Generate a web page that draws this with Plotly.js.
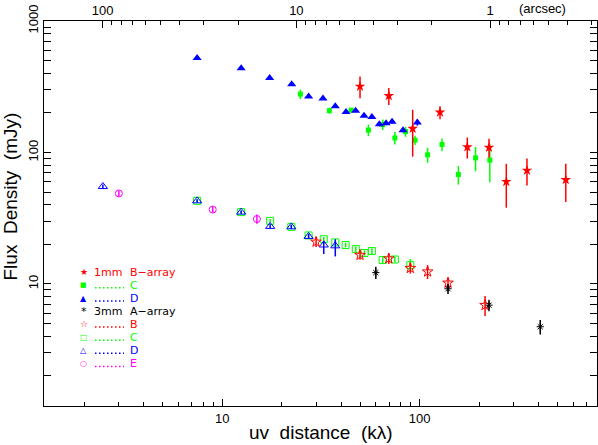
<!DOCTYPE html>
<html>
<head>
<meta charset="utf-8">
<script src="https://cdn.plot.ly/plotly-3.0.1.min.js"></script>
<style>html,body{margin:0;padding:0;background:#fff;}#chart{width:598px;height:445px;}</style>
</head>
<body>
<div id="chart"></div>
<script>
// ---- data (uv distance in kλ, flux density in mJy) ----
var mm1B_uv   = [49.9, 69.8, 92.2, 126.8, 174.3, 224.5, 274.6, 349.5, 549.5];
var mm1B_flux = [318, 270, 152, 202, 110, 109, 60, 73, 62];
var mm1B_err  = [60, 40, 59, 23, 20, 18, 22, 17, 20];

var mm1C_uv   = [24.9, 34.9, 45.0, 55.0, 65.0, 74.9, 84.9, 94.8, 109.7, 129.8, 157.0, 191.9, 226.6];
var mm1C_flux = [278, 208, 210, 148, 163, 129, 144, 124, 96, 115, 68, 91, 87.5];
var mm1C_err  = [23, 11, 5, 15, 15, 14, 12.5, 10, 12.5, 12.6, 11, 19, 28];

var mm1D_uv   = [7.47, 12.48, 17.4, 22.5, 27.4, 32.4, 37.4, 42.4, 47.4, 52.3, 57.3, 62.5, 67.6, 72.5, 82.4, 97.3];
var mm1D_flux = [522, 438, 368, 331, 267, 257, 225, 203, 208, 190, 186, 164, 167, 171, 147.5, 169];
var mm1D_err  = [8, 7, 6, 6, 6, 5, 5, 5, 5, 5, 5, 6, 5, 5, 5, 9];

var mm3A_uv   = [60.0, 139.2, 224.5, 408];
var mm3A_flux = [12.2, 9.2, 6.9, 4.73];
var mm3A_err  = [1.3, 0.8, 0.7, 0.6];

var mm3B_uv   = [29.9, 49.9, 69.8, 89.7, 109.7, 139.2, 214.4];
var mm3B_flux = [20.9, 16.6, 15.6, 13.2, 12.4, 10.2, 6.9];
var mm3B_err  = [1.8, 1.3, 1.4, 1.2, 1.5, 1.0, 1.2];

var mm3C_uv   = [7.47, 12.48, 17.5, 22.4, 27.4, 32.7, 37.4, 42.2, 47.5, 52.6, 57.3, 65.0, 74.9, 89.7];
var mm3C_flux = [42.9, 35.2, 30.2, 27.2, 23.4, 21.9, 20.7, 19.8, 18.4, 17.2, 17.8, 15.2, 15.35, 13.9];
var mm3C_err  = [1.2, 1.0, 1.0, 1.0, 0.9, 0.9, 0.9, 0.8, 0.9, 0.8, 0.9, 0.8, 0.8, 1.6];

var mm3D_uv       = [2.49, 7.47, 12.48, 17.5, 22.4, 27.4, 32.7, 37.4];
var mm3D_flux     = [55.1, 42.9, 35.2, 27.4, 27.2, 23.0, 19.8, 19.5];
var mm3D_errplus  = [2.0, 1.2, 1.0, 1.0, 1.0, 1.0, 1.5, 2.4];
var mm3D_errminus = [2.0, 1.2, 1.0, 1.0, 1.0, 1.0, 2.9, 3.3];

var mm3E_uv   = [3.00, 8.96, 15.0];
var mm3E_flux = [48.8, 36.8, 31.2];
var mm3E_err  = [2.5, 2.0, 2.5];

// ---- axis ticks ----
var xMajor = [10, 100];
var xMajorText = ['10', '100'];
var yMajor = [10, 100, 1000];
var yMajorText = ['10', '100', '1000'];
var topMajor = [1, 10, 100];
var topMajorText = ['1', '10', '100'];
var minorDigits = [2, 3, 4, 5, 6, 7, 8, 9];

// ---- legend rows ----
var legSymbols = ['\u2605', '\u25A0', '\u25B2', '*', '\u2606', '\u25A1', '\u25B3', '\u25CB'];
var legCol1    = ['1mm', null, null, '3mm', null, null, null, null];
var legCol2    = ['B\u2212array', 'C', 'D', 'A\u2212array', 'B', 'C', 'D', 'E'];
var legColors  = ['#ff0000', '#00ff00', '#0000ff', '#000000', '#ff0000', '#00ff00', '#0000ff', '#ff00ff'];
var legSymSize = [9, 7, 8, 11, 9, 8, 8, 8];

function minors(decades) {
  var out = [];
  decades.forEach(function (d) { minorDigits.forEach(function (m) { out.push(m * d); }); });
  return out;
}

var RED = '#ff0000', GREEN = '#00ff00', BLUE = '#0000ff', MAG = '#ff00ff', BLK = '#000000';

function tr(x, y, err, sym, size, color, lw, name, errminus) {
  var ey = {type: 'data', array: err, visible: true, color: color, thickness: 1.5, width: 0};
  if (errminus) { ey.symmetric = false; ey.arrayminus = errminus; }
  return {
    x: x, y: y, type: 'scatter', mode: 'markers', name: name,
    marker: {symbol: sym, size: size, color: color, line: {color: color, width: lw}},
    error_y: ey, showlegend: false, hoverinfo: 'skip'
  };
}

var traces = [
  tr(mm3E_uv, mm3E_flux, mm3E_err, 'circle-open', 7, MAG, 1, '3mm E'),
  tr(mm3C_uv, mm3C_flux, mm3C_err, 'square-open', 7, GREEN, 1, '3mm C'),
  tr(mm3D_uv, mm3D_flux, mm3D_errplus, 'triangle-up-open', 8, BLUE, 1, '3mm D', mm3D_errminus),
  tr(mm3B_uv, mm3B_flux, mm3B_err, 'star-open', 8, RED, 1, '3mm B'),
  tr(mm3A_uv, mm3A_flux, mm3A_err, 'asterisk-open', 6, BLK, 1, '3mm A'),
  tr(mm1C_uv, mm1C_flux, mm1C_err, 'square', 5, GREEN, 0, '1mm C'),
  tr(mm1D_uv, mm1D_flux, mm1D_err, 'triangle-up', 8, BLUE, 0, '1mm D'),
  tr(mm1B_uv, mm1B_flux, mm1B_err, 'star', 8, RED, 0, '1mm B')
];
// dummy trace to activate the top (arcsec) axis
traces.push({x: [], y: [], xaxis: 'x2', yaxis: 'y', type: 'scatter', mode: 'markers', showlegend: false});

var ML = 44, MR = 1, MT = 21, MB = 39, W = 598, H = 445;
var PW = W - ML - MR, PH = H - MT - MB;
function px2x(px) { return (px - ML) / PW; }
function py2y(py) { return (H - MB - py) / PH; }

var FONT = '"Liberation Sans", Arial, sans-serif';
var LEGFONT = '"DejaVu Sans", sans-serif';
var annotations = [];
var shapes = [];

var rowY0 = 271.7, rowStep = 13.1;
legCol2.forEach(function (t, i) {
  var py = rowY0 + i * rowStep;
  annotations.push({xref: 'paper', yref: 'paper', x: px2x(83.5), y: py2y(py), text: legSymbols[i],
    showarrow: false, xanchor: 'center', yanchor: 'middle', height: 12, borderpad: 0,
    font: {family: LEGFONT, size: legSymSize[i], color: legColors[i]}});
  if (legCol1[i]) {
    annotations.push({xref: 'paper', yref: 'paper', x: px2x(93), y: py2y(py), text: legCol1[i],
      showarrow: false, xanchor: 'left', yanchor: 'middle', height: 12, borderpad: 0,
      font: {family: LEGFONT, size: 11, color: legColors[i]}});
  } else {
    shapes.push({type: 'line', xref: 'paper', yref: 'paper', x0: px2x(95), x1: px2x(124),
      y0: py2y(py + 3), y1: py2y(py + 3), line: {color: legColors[i], width: 1.5, dash: '1.5px,2.5px'}});
  }
  annotations.push({xref: 'paper', yref: 'paper', x: px2x(128.5), y: py2y(py), text: t,
    showarrow: false, xanchor: 'left', yanchor: 'middle', height: 12, borderpad: 0,
    font: {family: LEGFONT, size: 11, color: legColors[i]}});
});

annotations.push({xref: 'paper', yref: 'paper', x: px2x(542), y: py2y(8), text: '(arcsec)',
  showarrow: false, xanchor: 'center', yanchor: 'middle', font: {family: FONT, size: 13, color: '#000'}});
annotations.push({xref: 'paper', yref: 'paper', x: px2x(320.5), y: py2y(432), text: 'uv  distance  (k\u03bb)',
  showarrow: false, xanchor: 'center', yanchor: 'middle', font: {family: FONT, size: 19, color: '#000'}});
annotations.push({xref: 'paper', yref: 'paper', x: px2x(10), y: py2y(196.5), text: 'Flux  Density  (mJy)',
  textangle: -90, showarrow: false, xanchor: 'center', yanchor: 'middle', font: {family: FONT, size: 19, color: '#000'}});

var layout = {
  width: W, height: H,
  margin: {l: ML, r: MR, t: MT, b: MB, pad: 0},
  paper_bgcolor: '#fff', plot_bgcolor: '#fff',
  font: {family: FONT, size: 13, color: '#000'},
  showlegend: false,
  xaxis: {
    type: 'log', range: [0.098, 2.898], showgrid: false, zeroline: false,
    showline: true, linecolor: '#000', linewidth: 1, mirror: false,
    ticks: 'inside', ticklen: 7, tickcolor: '#000', tickwidth: 1,
    tickmode: 'array', tickvals: xMajor, ticktext: xMajorText,
    tickfont: {family: FONT, size: 13},
    minor: {ticks: 'inside', ticklen: 4, tickcolor: '#000', tickwidth: 1, tickvals: minors([1, 10, 100])}
  },
  xaxis2: {
    type: 'log', range: [2.302, -0.551], overlaying: 'x', side: 'top', anchor: 'y',
    showgrid: false, zeroline: false, showline: true, linecolor: '#000', linewidth: 1,
    ticks: 'inside', ticklen: 7, tickcolor: '#000', tickwidth: 1,
    tickmode: 'array', tickvals: topMajor, ticktext: topMajorText,
    tickfont: {family: FONT, size: 13},
    minor: {ticks: 'inside', ticklen: 4, tickcolor: '#000', tickwidth: 1, tickvals: minors([0.1, 1, 10, 100])}
  },
  yaxis: {
    type: 'log', range: [0.072, 3.0], showgrid: false, zeroline: false,
    showline: true, linecolor: '#000', linewidth: 1, mirror: 'allticks',
    ticks: 'inside', ticklen: 7, tickcolor: '#000', tickwidth: 1,
    tickmode: 'array', tickvals: yMajor, ticktext: yMajorText, tickangle: -90,
    tickfont: {family: FONT, size: 13},
    minor: {ticks: 'inside', ticklen: 4, tickcolor: '#000', tickwidth: 1, tickvals: minors([1, 10, 100])}
  },
  annotations: annotations,
  shapes: shapes
};

Plotly.newPlot('chart', traces, layout, {displayModeBar: false, staticPlot: true});
</script>
</body>
</html>
